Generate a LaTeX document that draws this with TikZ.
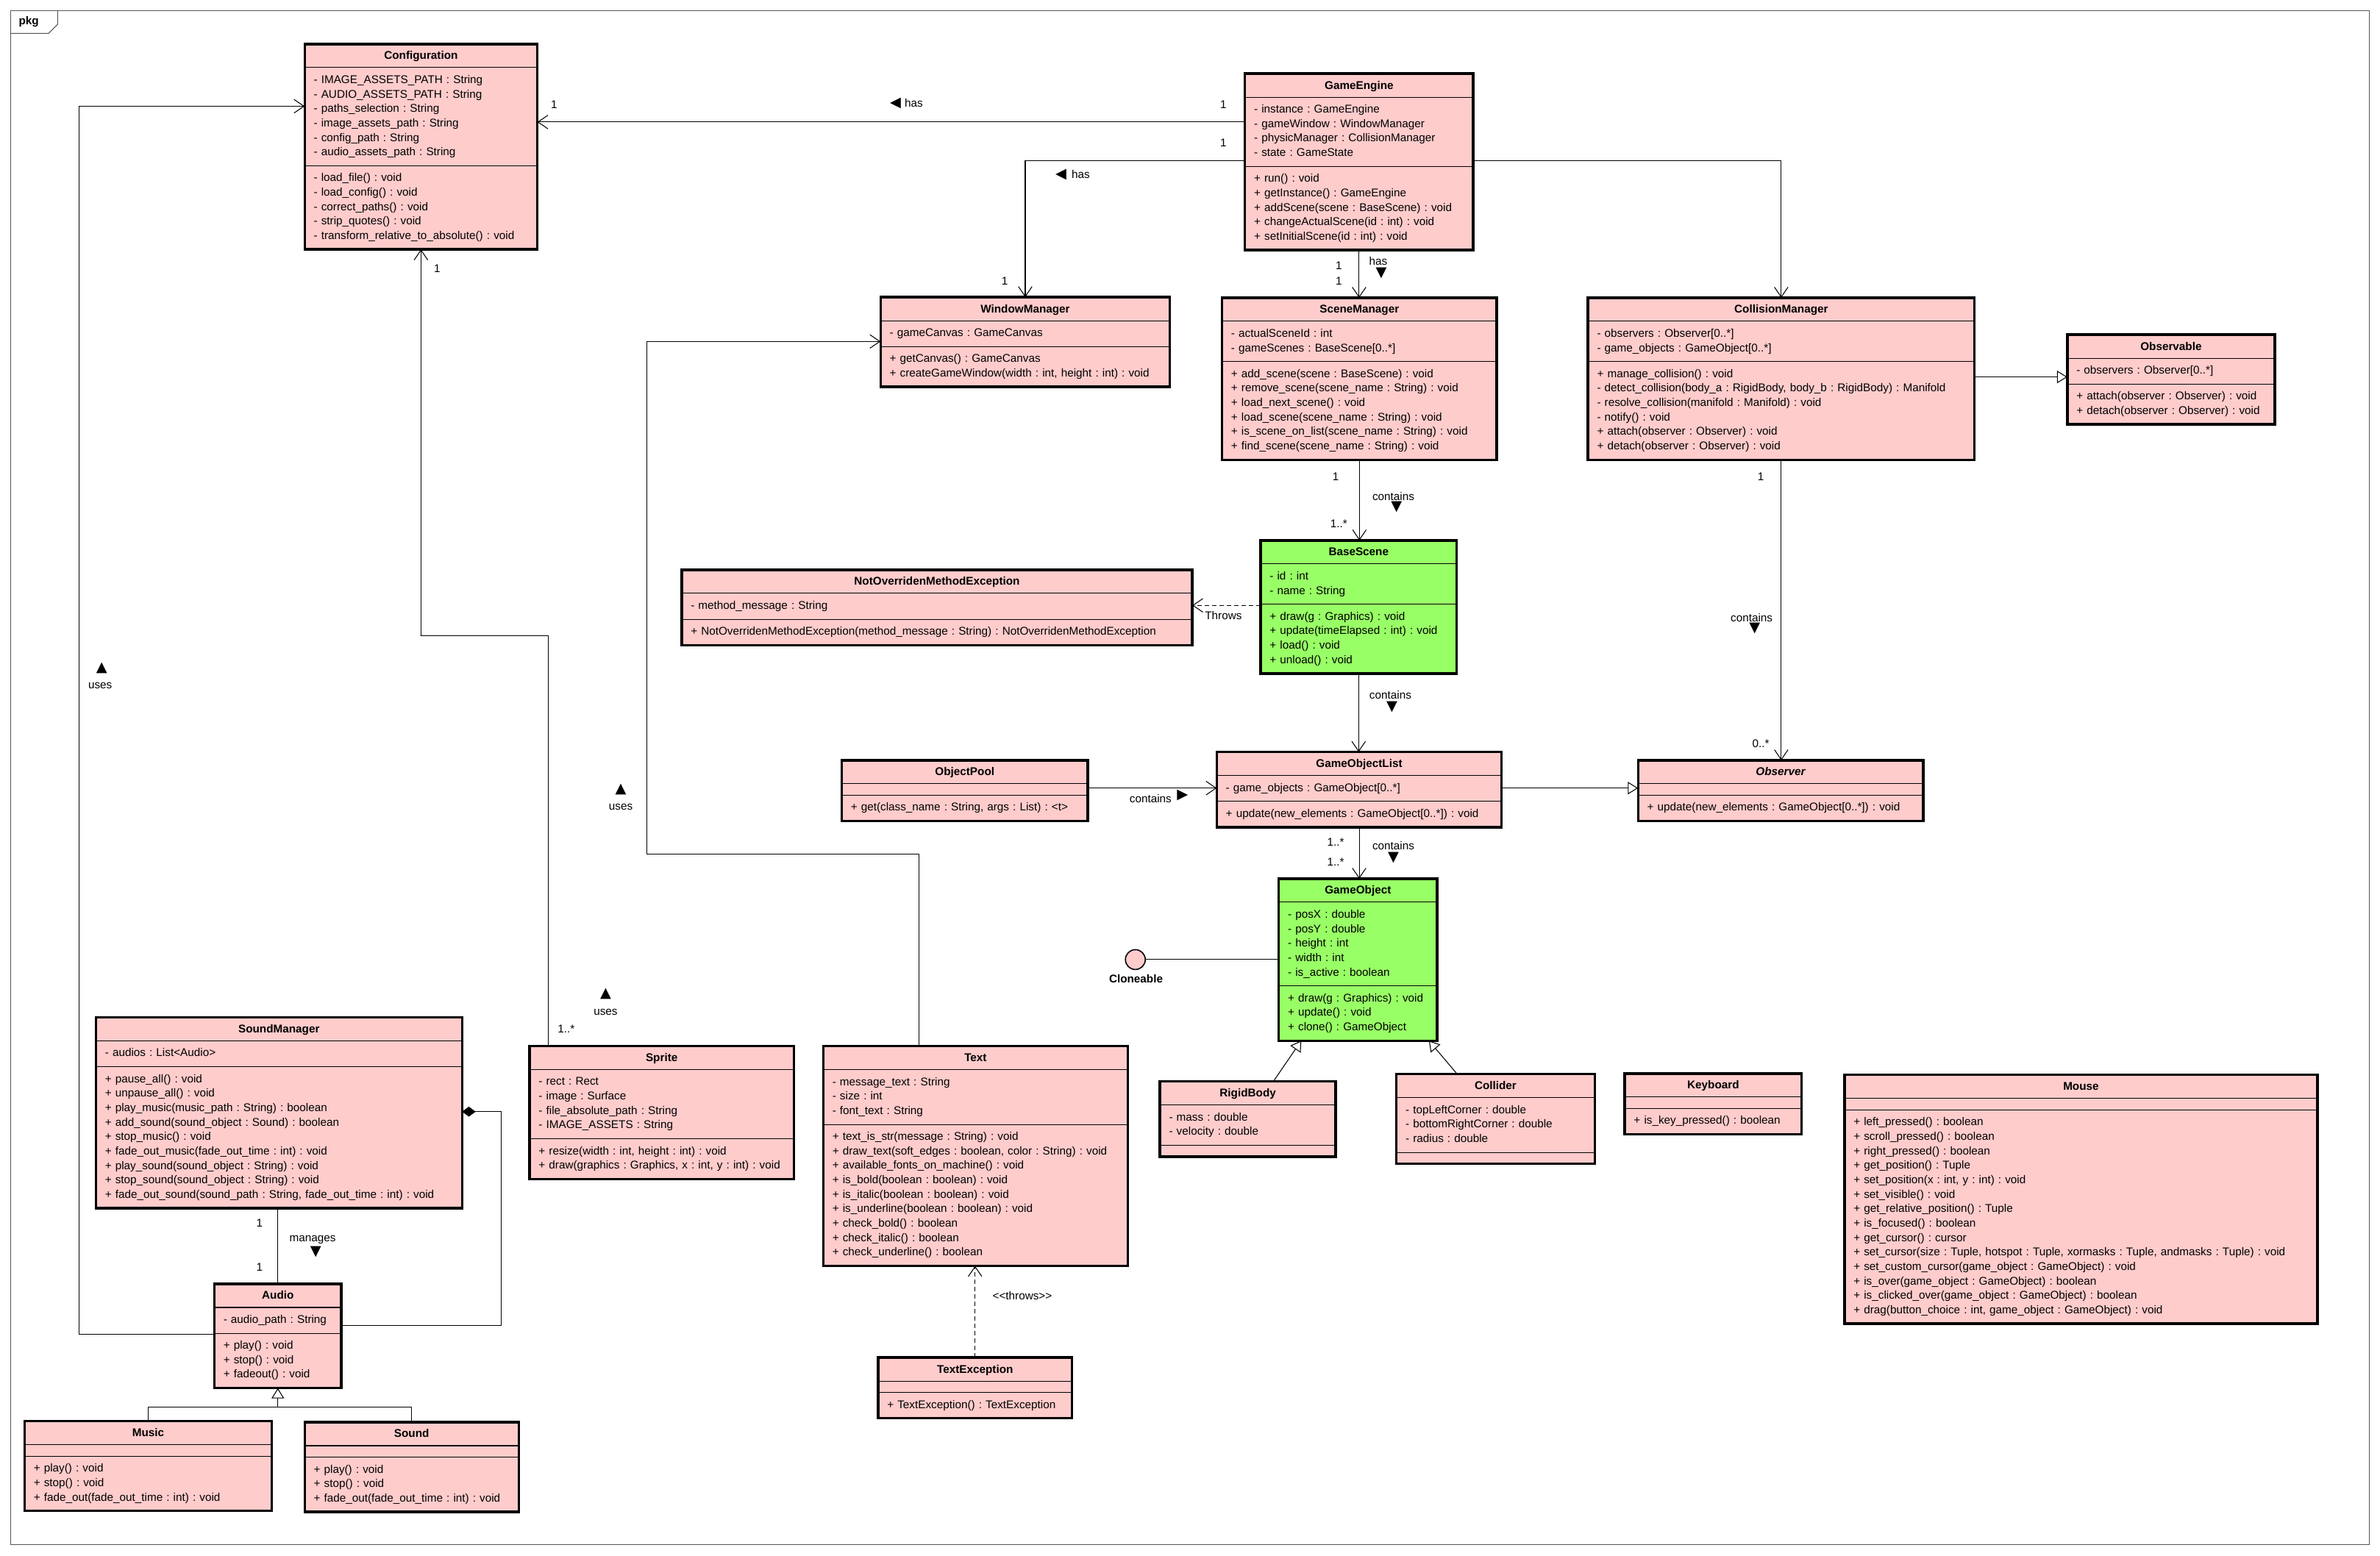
\documentclass[tikz,border=0pt]{standalone}
\usepackage{fontspec}
\setmainfont{Liberation Sans}
\newfontfamily\trifont{DejaVu Sans}
\usepackage{xcolor}
\usetikzlibrary{arrows.meta,shapes.multipart}
\definecolor{pinkbox}{HTML}{FFCCCC}
\definecolor{greenbox}{HTML}{99FF66}
\definecolor{framec}{HTML}{555555}
\setlength{\parindent}{0pt}
\newcommand{\mbr}[1]{\begin{tabular}[t]{@{}l@{}}#1\end{tabular}}
\newcommand{\ttl}[1]{\hbox to\hsize{\hss\bfseries\rule[-0.65mm]{0pt}{3.3mm}#1\hss}}
\tikzset{
  cls/.style={rectangle split, rectangle split parts=3, draw, line width=0.6pt,
    fill=pinkbox, anchor=north west, inner xsep=2.48mm, inner ysep=1.445mm,
    outer sep=0pt, align=left, rectangle split empty part height=0pt,
    rectangle split empty part depth=0pt},
  boxw/.code={\pgfmathsetlengthmacro\boxtw{#1*0.4128mm-4.96mm}\tikzset{text width=\boxtw}},
  assoc/.style={line width=0.6pt, -{Straight Barb[length=2.7mm,width=3.7mm]}},
  inherit/.style={line width=0.6pt, -{Triangle[open,length=2.8mm,width=3.4mm,fill=white]}},
  compose/.style={line width=0.6pt, -{Diamond[length=3.7mm,width=2.7mm]}},
  depend/.style={assoc, dash pattern=on 1.2mm off 0.8mm},
  plain/.style={line width=0.6pt},
  lbl/.style={inner sep=0pt},
  tri/.style={inner sep=0pt, font=\trifont\fontsize{11}{11}\selectfont}
}
\begin{document}
\catcode`\_=12
\frenchspacing
\fontsize{8.7}{11.19}\selectfont
\begin{tikzpicture}[x=0.4128mm,y=-0.4128mm]
\useasboundingbox (0,0) rectangle (1568,1025);
\draw[framec, line width=0.6pt] (7,7) rectangle (1561,1018);
\draw[framec, line width=0.6pt] (7,22) -- (32,22) -- (38,16) -- (38,7);
\node[lbl, font=\bfseries] (pkg) at (19,14.5) {pkg};

\node[cls, boxw=153.3] (config) at (200.7,29) {\ttl{Configuration}\nodepart{two}\mbr{- IMAGE_ASSETS_PATH : String\\- AUDIO_ASSETS_PATH : String\\- paths_selection : String\\- image_assets_path : String\\- config_path : String\\- audio_assets_path : String}\nodepart{three}\mbr{- load_file() : void\\- load_config() : void\\- correct_paths() : void\\- strip_quotes() : void\\- transform_relative_to_absolute() : void}};
\node[cls, boxw=150.4] (engine) at (820.2,48.5) {\ttl{GameEngine}\nodepart{two}\mbr{- instance : GameEngine\\- gameWindow : WindowManager\\- physicManager : CollisionManager\\- state : GameState}\nodepart{three}\mbr{+ run() : void\\+ getInstance() : GameEngine\\+ addScene(scene : BaseScene) : void\\+ changeActualScene(id : int) : void\\+ setInitialScene(id : int) : void}};
\node[cls, boxw=190.7] (window) at (580.1,195.8) {\ttl{WindowManager}\nodepart{two}\mbr{- gameCanvas : GameCanvas}\nodepart{three}\mbr{+ getCanvas() : GameCanvas\\+ createGameWindow(width : int, height : int) : void}};
\node[cls, boxw=181] (scenes) at (805.1,196.2) {\ttl{SceneManager}\nodepart{two}\mbr{- actualSceneId : int\\- gameScenes : BaseScene[0..*]}\nodepart{three}\mbr{+ add_scene(scene : BaseScene) : void\\+ remove_scene(scene_name : String) : void\\+ load_next_scene() : void\\+ load_scene(scene_name : String) : void\\+ is_scene_on_list(scene_name : String) : void\\+ find_scene(scene_name : String) : void}};
\node[cls, boxw=254.6] (collision) at (1046.2,196.2) {\ttl{CollisionManager}\nodepart{two}\mbr{- observers : Observer[0..*]\\- game_objects : GameObject[0..*]}\nodepart{three}\mbr{+ manage_collision() : void\\- detect_collision(body_a : RigidBody, body_b : RigidBody) : Manifold\\- resolve_collision(manifold : Manifold) : void\\- notify() : void\\+ attach(observer : Observer) : void\\+ detach(observer : Observer) : void}};
\node[cls, boxw=136.7] (observable) at (1362,220.5) {\ttl{Observable}\nodepart{two}\mbr{- observers : Observer[0..*]}\nodepart{three}\mbr{+ attach(observer : Observer) : void\\+ detach(observer : Observer) : void}};
\node[cls, boxw=336.4] (notover) at (449.1,375.5) {\ttl{NotOverridenMethodException}\nodepart{two}\mbr{- method_message : String}\nodepart{three}\mbr{+ NotOverridenMethodException(method_message : String) : NotOverridenMethodException}};
\node[cls, boxw=129.2, fill=greenbox] (basescene) at (830.5,356.1) {\ttl{BaseScene}\nodepart{two}\mbr{- id : int\\- name : String}\nodepart{three}\mbr{+ draw(g : Graphics) : void\\+ update(timeElapsed : int) : void\\+ load() : void\\+ unload() : void}};
\node[cls, boxw=162.2] (pool) at (554.5,501) {\ttl{ObjectPool}\nodepart{two}\nodepart{three}\mbr{+ get(class_name : String, args : List) : <t>}};
\node[cls, boxw=187.7] (golist) at (801.6,495.5) {\ttl{GameObjectList}\nodepart{two}\mbr{- game_objects : GameObject[0..*]}\nodepart{three}\mbr{+ update(new_elements : GameObject[0..*]) : void}};
\node[cls, boxw=187.8] (observer) at (1079.2,501) {\ttl{\itshape Observer}\nodepart{two}\nodepart{three}\mbr{+ update(new_elements : GameObject[0..*]) : void}};
\node[cls, boxw=104.3, fill=greenbox] (gameobj) at (842.5,579) {\ttl{GameObject}\nodepart{two}\mbr{- posX : double\\- posY : double\\- height : int\\- width : int\\- is_active : boolean}\nodepart{three}\mbr{+ draw(g : Graphics) : void\\+ update() : void\\+ clone() : GameObject}};
\node[cls, boxw=115.8] (rigid) at (764.2,712.6) {\ttl{RigidBody}\nodepart{two}\mbr{- mass : double\\- velocity : double}\nodepart{three}};
\node[cls, boxw=130.6] (collider) at (920,707.7) {\ttl{Collider}\nodepart{two}\mbr{- topLeftCorner : double\\- bottomRightCorner : double\\- radius : double}\nodepart{three}};
\node[cls, boxw=116.6] (keyboard) at (1070.4,707.4) {\ttl{Keyboard}\nodepart{two}\nodepart{three}\mbr{+ is_key_pressed() : boolean}};
\node[cls, boxw=311.6] (mouse) at (1215.2,708.3) {\ttl{Mouse}\nodepart{two}\nodepart{three}\mbr{+ left_pressed() : boolean\\+ scroll_pressed() : boolean\\+ right_pressed() : boolean\\+ get_position() : Tuple\\+ set_position(x : int, y : int) : void\\+ set_visible() : void\\+ get_relative_position() : Tuple\\+ is_focused() : boolean\\+ get_cursor() : cursor\\+ set_cursor(size : Tuple, hotspot : Tuple, xormasks : Tuple, andmasks : Tuple) : void\\+ set_custom_cursor(game_object : GameObject) : void\\+ is_over(game_object : GameObject) : boolean\\+ is_clicked_over(game_object : GameObject) : boolean\\+ drag(button_choice : int, game_object : GameObject) : void}};
\node[cls, boxw=241.2] (soundmgr) at (63.2,670.3) {\ttl{SoundManager}\nodepart{two}\mbr{- audios : List<Audio>}\nodepart{three}\mbr{+ pause_all() : void\\+ unpause_all() : void\\+ play_music(music_path : String) : boolean\\+ add_sound(sound_object : Sound) : boolean\\+ stop_music() : void\\+ fade_out_music(fade_out_time : int) : void\\+ play_sound(sound_object : String) : void\\+ stop_sound(sound_object : String) : void\\+ fade_out_sound(sound_path : String, fade_out_time : int) : void}};
\node[cls, boxw=174.1] (sprite) at (348.9,689.2) {\ttl{Sprite}\nodepart{two}\mbr{- rect : Rect\\- image : Surface\\- file_absolute_path : String\\- IMAGE_ASSETS : String}\nodepart{three}\mbr{+ resize(width : int, height : int) : void\\+ draw(graphics : Graphics, x : int, y : int) : void}};
\node[cls, boxw=200.6] (text) at (542.4,689.3) {\ttl{Text}\nodepart{two}\mbr{- message_text : String\\- size : int\\- font_text : String}\nodepart{three}\mbr{+ text_is_str(message : String) : void\\+ draw_text(soft_edges : boolean, color : String) : void\\+ available_fonts_on_machine() : void\\+ is_bold(boolean : boolean) : void\\+ is_italic(boolean : boolean) : void\\+ is_underline(boolean : boolean) : void\\+ check_bold() : boolean\\+ check_italic() : boolean\\+ check_underline() : boolean}};
\node[cls, boxw=127.8] (textexc) at (578.5,894.5) {\ttl{TextException}\nodepart{two}\nodepart{three}\mbr{+ TextException() : TextException}};
\node[cls, boxw=83.7] (audio) at (141.2,846) {\ttl{Audio}\nodepart{two}\mbr{- audio_path : String}\nodepart{three}\mbr{+ play() : void\\+ stop() : void\\+ fadeout() : void}};
\node[cls, boxw=162.9] (music) at (16.2,936.5) {\ttl{Music}\nodepart{two}\nodepart{three}\mbr{+ play() : void\\+ stop() : void\\+ fade_out(fade_out_time : int) : void}};
\node[cls, boxw=141] (sound) at (200.7,937.1) {\ttl{Sound}\nodepart{two}\nodepart{three}\mbr{+ play() : void\\+ stop() : void\\+ fade_out(fade_out_time : int) : void}};

\foreach \n in {config,engine,window,scenes,collision,observable,notover,basescene,pool,golist,observer,gameobj,rigid,collider,keyboard,mouse,soundmgr,sprite,text,textexc,audio,music,sound}
  \draw[line width=1.9pt] (\n.north west) rectangle (\n.south east);

\node[draw, circle, fill=pinkbox, minimum size=5.4mm, inner sep=0pt, line width=0.9pt] (clone) at (748,632.3) {};
\node[lbl, font=\bfseries] (clonelbl) at (748.4,644.8) {Cloneable};

\draw[assoc] (engine.west |- 0,80.4) -- (config.east |- 0,80.4);
\draw[assoc] (engine.west |- 0,105.8) -| (window.north);
\draw[assoc] (engine.east |- 0,105.8) -| (collision.north);
\draw[assoc] (engine.south) -- (engine.south |- scenes.north);
\draw[assoc] (scenes.south) -- (scenes.south |- basescene.north);
\draw[assoc] (basescene.south) -- (basescene.south |- golist.north);
\draw[assoc] (collision.south) -- (collision.south |- observer.north);
\draw[assoc] (golist.south) -- (golist.south |- gameobj.north);
\draw[assoc] (pool.east |- 0,519.3) -- (golist.west |- 0,519.3);
\draw[inherit] (golist.east |- 0,519.3) -- (observer.west |- 0,519.3);
\draw[inherit] (collision.east |- 0,248.4) -- (observable.west |- 0,248.4);
\draw[depend] (basescene.west |- 0,398.9) -- (notover.east |- 0,398.9);
\draw[plain] (clone.east) -- (clone.east -| gameobj.west);
\draw[inherit] (rigid.north -| 838.9,0) -- (gameobj.south -| 857.3,0);
\draw[inherit] (collider.north -| 960,0) -- (gameobj.south -| 941.4,0);
\draw[assoc] (sprite.north -| 361.4,0) |- (277,419) -| (config.south);
\draw[assoc] (text.north -| 605.4,0) |- (426,563) |- (window.west |- 0,225);
\draw[assoc] (audio.west |- 0,879) -| (52,70) -- (config.west |- 0,70);
\draw[plain] (audio.north |- soundmgr.south) -- (audio.north);
\draw[compose] (audio.east |- 0,873.5) -| (330.3,732.5) -- (soundmgr.east |- 0,732.5);
\draw[inherit] (music.north) |- (audio.south |- 0,927.4) -- (audio.south);
\draw[plain] (sound.north) |- (audio.south |- 0,927.4);
\draw[depend] (textexc.north) -- (textexc.north |- text.south);

\node[lbl] (m1) at (365,69) {1};
\node[lbl] (m2) at (806,69) {1};
\node[tri] (t1) at (590,68) {◀};
\node[lbl] (r1) at (602,68) {has};
\node[lbl] (m3) at (806,94) {1};
\node[tri] (t2) at (699,115) {◀};
\node[lbl] (r2) at (712,115) {has};
\node[lbl] (m4) at (662,185) {1};
\node[lbl] (m5) at (882,175) {1};
\node[lbl] (m6) at (882,185) {1};
\node[lbl] (r3) at (908,172) {has};
\node[tri] (t3) at (910,180) {▼};
\node[lbl] (m7) at (880,314) {1};
\node[lbl] (m8) at (882,345) {1..*};
\node[lbl] (r4) at (918,327) {contains};
\node[tri] (t4) at (920,334) {▼};
\node[lbl] (r5) at (916,458) {contains};
\node[tri] (t5) at (917,466) {▼};
\node[lbl] (m9) at (1160,314) {1};
\node[lbl] (r6) at (1154,407) {contains};
\node[tri] (t6) at (1156,414) {▼};
\node[lbl] (m10) at (1160,490) {0..*};
\node[lbl] (r7) at (758,526) {contains};
\node[tri] (t7) at (779,524) {▶};
\node[lbl] (m11) at (880,555) {1..*};
\node[lbl] (m12) at (880,568) {1..*};
\node[lbl] (r8) at (918,557) {contains};
\node[tri] (t8) at (918,565) {▼};
\node[lbl] (m13) at (288,177) {1};
\node[lbl] (m14) at (373,678) {1..*};
\node[tri] (t9) at (399,655) {▲};
\node[lbl] (r9) at (399,667) {uses};
\node[tri] (t10) at (409,520) {▲};
\node[lbl] (r10) at (409,532) {uses};
\node[tri] (t11) at (67,440) {▲};
\node[lbl] (r11) at (66,452) {uses};
\node[lbl] (m15) at (171,806) {1};
\node[lbl] (m16) at (171,835) {1};
\node[lbl] (r12) at (206,817) {manages};
\node[tri] (t12) at (208,825) {▼};
\node[lbl] (r13) at (673.5,854) {<{}<throws>{}>};
\node[lbl] (r14) at (806,405.7) {Throws};
\end{tikzpicture}
\end{document}
